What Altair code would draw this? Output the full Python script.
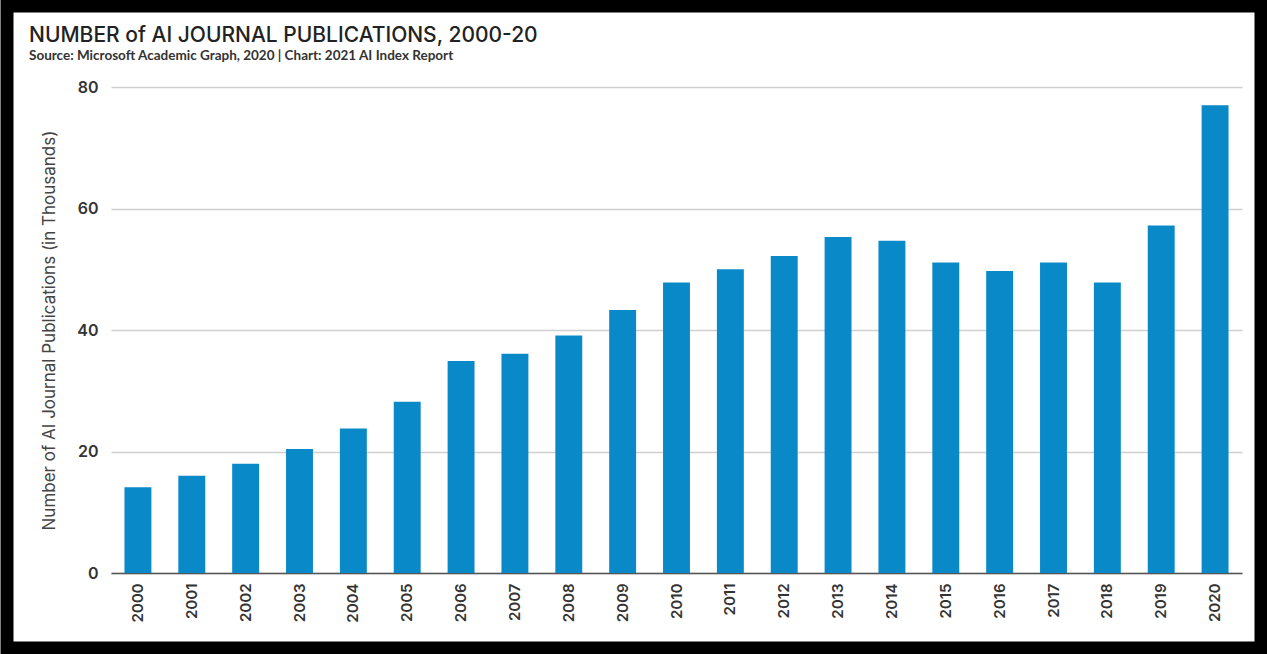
import altair as alt
import pandas as pd

years = [str(y) for y in range(2000, 2021)]
pubs = [14.1, 16.0, 18.0, 20.4, 23.8, 28.2, 34.9, 36.1, 39.1, 43.3, 47.8,
        50.0, 52.2, 55.3, 54.7, 51.1, 49.7, 51.1, 47.8, 57.2, 77.0]
y_ticks = [0, 20, 40, 60, 80]

title_text = "NUMBER of AI JOURNAL PUBLICATIONS, 2000-20"
subtitle_text = "Source: Microsoft Academic Graph, 2020 | Chart: 2021 AI Index Report"
y_title = "Number of AI Journal Publications (in Thousands)"

df = pd.DataFrame({"year": years, "pubs": pubs})

bars = alt.Chart(df).mark_bar(color="#0a89c9").encode(
    x=alt.X(
        "year:N", sort=years,
        scale=alt.Scale(paddingInner=0.5, paddingOuter=0.25),
        axis=alt.Axis(title=None, labelAngle=270, labelFontSize=15, labelColor="#333",
                      labelFont="Inter", labelFontWeight=600, ticks=False, labelPadding=10,
                      domainColor="#555", domainWidth=1.5, grid=False),
    ),
    y=alt.Y(
        "pubs:Q",
        scale=alt.Scale(domain=[0, 80], nice=False),
        axis=alt.Axis(values=y_ticks, title=y_title, titleFont="Inter", titleFontSize=17,
                      titleFontWeight="normal", titleColor="#444", titlePadding=18,
                      labelFont="Inter", labelFontSize=16, labelFontWeight=600,
                      labelColor="#333", labelPadding=13, ticks=False, domain=False,
                      gridColor="#d0d0d0", gridWidth=1.5),
    ),
)

frame = alt.Chart(alt.Data(values=[{}])).mark_rect(
    fillOpacity=0, stroke="black", strokeWidth=13
).encode(
    x=alt.value(-104), x2=alt.value(1150), y=alt.value(-81), y2=alt.value(561)
)

title = alt.Chart(alt.Data(values=[{"t": title_text}])).mark_text(
    font="Inter", fontSize=21, fontWeight=500, color="#222", align="left", baseline="alphabetic"
).encode(text="t:N", x=alt.value(-82), y=alt.value(-45))

subtitle = alt.Chart(alt.Data(values=[{"t": subtitle_text}])).mark_text(
    font="Lato", fontSize=13.5, fontWeight="bold", color="#333", align="left", baseline="alphabetic"
).encode(text="t:N", x=alt.value(-82), y=alt.value(-27))

chart = alt.layer(bars, frame, title, subtitle).properties(
    width=1131, height=486,
    padding={"left": 111, "top": 87, "right": 25, "bottom": 81},
    autosize="none",
    background="white",
).configure_view(strokeWidth=0)

chart.save("out.html", embed_options={"renderer": "svg", "actions": False})
